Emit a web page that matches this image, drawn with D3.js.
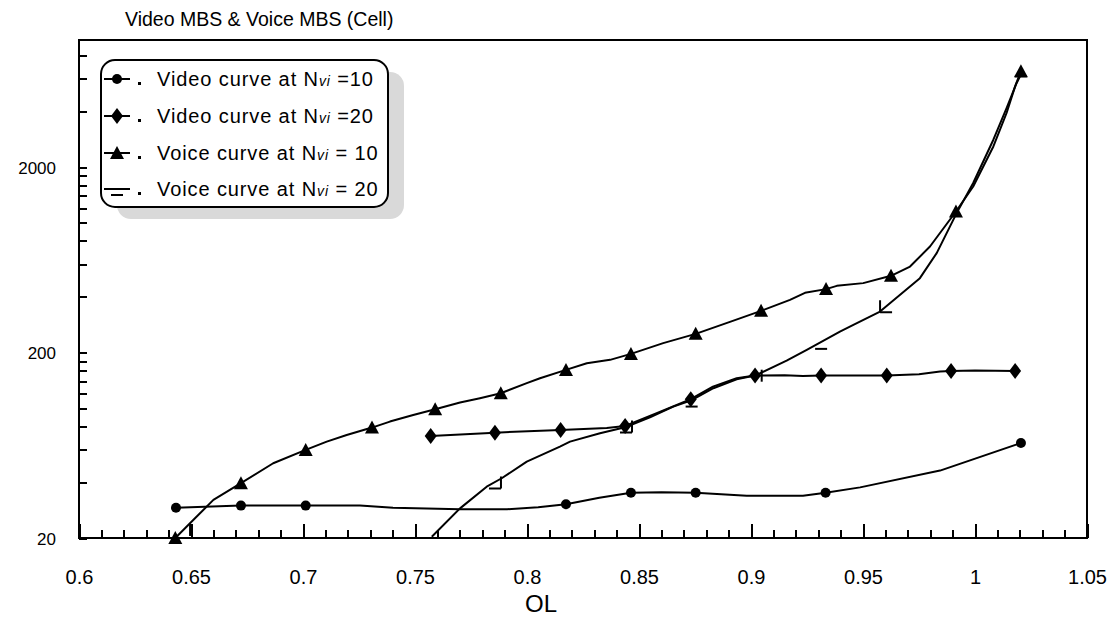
<!DOCTYPE html>
<html>
<head>
<meta charset="utf-8">
<script src="https://cdn.jsdelivr.net/npm/d3@7/dist/d3.min.js"></script>
<style>
  html, body { margin: 0; padding: 0; background: #fff; }
  svg { display: block; font-family: "Liberation Sans", Arial, Helvetica, sans-serif; }
</style>
</head>
<body>
<svg id="chart" width="1112" height="617"></svg>
<script>
// ---- data -------------------------------------------------------------
// Video curve at Nvi = 10 (line and circle markers)
const videoN10OL   = [0.6433, 0.6723, 0.7012, 0.7254, 0.7402, 0.7701, 0.7911, 0.805, 0.8174, 0.8323, 0.8464, 0.860, 0.8753, 0.8981, 0.9232, 0.9333, 0.9487, 0.9844, 1.0205];
const videoN10Val  = [29.1, 29.9, 29.9, 29.9, 29.1, 28.6, 28.6, 29.3, 30.4, 33.0, 35.1, 35.3, 35.1, 33.8, 33.8, 35.1, 37.5, 46.2, 65.1];
const videoN10MarkOL  = [0.6433, 0.6723, 0.7012, 0.8174, 0.8464, 0.8753, 0.9333, 1.0205];
const videoN10MarkVal = [29.1, 29.9, 29.9, 30.4, 35.1, 35.1, 35.1, 65.1];

// Video curve at Nvi = 20 (line and diamond markers)
const videoN20OL   = [0.757, 0.7857, 0.815, 0.8356, 0.8438, 0.8579, 0.8731, 0.883, 0.8936, 0.9018, 0.915, 0.9232, 0.9313, 0.9606, 0.975, 0.9844, 0.9893, 1.0, 1.0179];
const videoN20Val  = [71.0, 74.0, 76.5, 78.5, 80.4, 94.2, 112.1, 131.1, 145.5, 150.3, 151.0, 149.5, 150.3, 150.3, 153.0, 157.9, 159.3, 160.0, 159.3];
const videoN20MarkOL  = [0.757, 0.7857, 0.815, 0.8438, 0.8731, 0.9018, 0.9313, 0.9606, 0.9893, 1.0179];
const videoN20MarkVal = [71.0, 74.0, 76.5, 80.4, 112.1, 150.3, 150.3, 150.3, 159.3, 159.3];

// Voice curve at Nvi = 10 (line and triangle markers)
const voiceN10OL   = [0.643, 0.651, 0.660, 0.6723, 0.6867, 0.7012, 0.7106, 0.7195, 0.7308, 0.7388, 0.7492, 0.759, 0.7701, 0.779, 0.7883, 0.7999, 0.8058, 0.8174, 0.8267, 0.8371, 0.8464, 0.8608, 0.8753, 0.8906, 0.9045, 0.9174, 0.9241, 0.9335, 0.9383, 0.9501, 0.9625, 0.971, 0.9799, 0.9915, 0.9992, 1.0082, 1.0141, 1.0179, 1.0205];
const voiceN10Val  = [20.0, 25.0, 32.1, 39.5, 50.6, 59.7, 66.2, 71.9, 78.8, 84.9, 92.2, 99.0, 107.5, 113.5, 120.7, 136.8, 145.5, 161.3, 175.3, 182.7, 196.8, 224.8, 252.4, 293, 335.8, 385, 420, 439.8, 458, 473.8, 518.8, 582, 746.6, 1153, 1573, 2587, 3918, 5452, 6572];
const voiceN10MarkOL  = [0.643, 0.6723, 0.7012, 0.7308, 0.759, 0.7883, 0.8174, 0.8464, 0.8753, 0.9045, 0.9335, 0.9625, 0.9915, 1.0205];
const voiceN10MarkVal = [20.0, 39.5, 59.7, 78.8, 99.0, 120.7, 161.3, 196.8, 252.4, 335.8, 439.8, 518.8, 1153, 6572];

// Voice curve at Nvi = 20 (line and open-box markers)
const voiceN20OL   = [0.7575, 0.7701, 0.782, 0.7887, 0.7999, 0.8147, 0.8192, 0.8326, 0.8438, 0.8549, 0.8653, 0.8731, 0.8832, 0.8936, 0.9018, 0.9159, 0.9249, 0.9397, 0.9457, 0.9576, 0.9754, 0.9829, 0.9918, 0.9992, 1.0082, 1.0141, 1.0186, 1.0201];
const voiceN20Val  = [20.3, 28.9, 37.8, 42.0, 51.6, 62.2, 66.2, 73.5, 79.1, 89.6, 102.2, 110.2, 128.5, 143.7, 150.3, 181.1, 206.8, 259.7, 282.2, 333, 504, 688, 1130, 1642, 2812, 4168, 5688, 6176];
const voiceN20MarkOL  = [0.6469, 0.7857, 0.8442, 0.8735, 0.9021, 0.9313, 0.9603, 1.0205];
const voiceN20MarkVal = [22.1, 39.9, 79.9, 110.2, 150.1, 225.6, 355.2, 5730];
// which sides of the box glyph are inked at each marker
const voiceN20MarkSides = ["r", "rb", "rb", "b", "r", "b", "lb", "t"];

// axis ticks
const xMajorTicks = [0.6, 0.65, 0.7, 0.75, 0.8, 0.85, 0.9, 0.95, 1, 1.05];
const xMinorTicks = d3.range(60, 106).map(v => v / 100);
const yMajorTicks = [20, 200, 2000];
const yMinorTicks = [40, 60, 80, 100, 120, 140, 160, 180, 400, 600, 800, 1000, 1200, 1400, 1600, 1800, 4000, 6000, 8000];

const legendLabels = [
  { text: "Video curve at N", sub: "vi", tail: " =10" },
  { text: "Video curve at N", sub: "vi", tail: " =20" },
  { text: "Voice curve at N", sub: "vi", tail: " = 10" },
  { text: "Voice curve at N", sub: "vi", tail: " = 20" }
];

// ---- layout -----------------------------------------------------------
const plot = { left: 79, right: 1087, top: 40, bottom: 538 };
const svg = d3.select("#chart");

const x = d3.scaleLinear().domain([0.6, 1.05]).range([plot.left, plot.right]);
const y = d3.scaleLog().domain([20, 9700]).range([plot.bottom, plot.top]);

// title
svg.append("text")
  .attr("x", 125).attr("y", 26)
  .attr("font-size", 19.5)
  .attr("fill", "#000")
  .text("Video MBS & Voice MBS (Cell)");

// axes (ticks point into the plot)
const xMinorAxis = d3.axisBottom(x).tickValues(xMinorTicks).tickSize(-8).tickFormat("");
const xMajorAxis = d3.axisBottom(x).tickValues(xMajorTicks).tickSize(-14).tickPadding(32)
  .tickFormat(d => d3.format("")(+d.toFixed(2)));
const yMinorAxis = d3.axisLeft(y).tickValues(yMinorTicks).tickSize(-8).tickFormat("");
const yMajorAxis = d3.axisLeft(y).tickValues(yMajorTicks).tickSize(-8).tickPadding(23)
  .tickFormat(d3.format("d"));

function styleAxis(g, fontSize) {
  g.select(".domain").remove();
  g.selectAll(".tick line").attr("stroke", "#000").attr("stroke-width", 2).attr("shape-rendering", "crispEdges");
  g.selectAll(".tick text").attr("fill", "#000").attr("font-size", fontSize)
    .attr("font-family", "'Liberation Sans', Arial, sans-serif");
}

svg.append("g").attr("transform", `translate(0,${plot.bottom})`).call(xMinorAxis).call(g => styleAxis(g, 0));
svg.append("g").attr("transform", `translate(0,${plot.bottom})`).call(xMajorAxis).call(g => styleAxis(g, 20));
svg.append("g").attr("transform", `translate(${plot.left},0)`).call(yMinorAxis).call(g => styleAxis(g, 0));
svg.append("g").attr("transform", `translate(${plot.left},0)`).call(yMajorAxis)
  .call(g => styleAxis(g, 17))
  .call(g => g.selectAll(".tick text").attr("dy", "0.36em"));

// plot frame
svg.append("rect")
  .attr("x", plot.left).attr("y", plot.top)
  .attr("width", plot.right - plot.left).attr("height", plot.bottom - plot.top)
  .attr("fill", "none").attr("stroke", "#000").attr("stroke-width", 2)
  .attr("shape-rendering", "crispEdges");

// x-axis title
svg.append("text")
  .attr("x", 541).attr("y", 612)
  .attr("text-anchor", "middle").attr("font-size", 24).attr("fill", "#000")
  .text("OL");

// ---- curves -----------------------------------------------------------
const line = d3.line().x(d => x(d[0])).y(d => y(d[1]));
const zip = (a, b) => a.map((v, i) => [v, b[i]]);

const curves = [
  { ol: videoN10OL, val: videoN10Val },
  { ol: videoN20OL, val: videoN20Val },
  { ol: voiceN10OL, val: voiceN10Val },
  { ol: voiceN20OL, val: voiceN20Val }
];
svg.append("g").selectAll("path").data(curves).join("path")
  .attr("d", c => line(zip(c.ol, c.val)))
  .attr("fill", "none").attr("stroke", "#000").attr("stroke-width", 2)
  .attr("stroke-linejoin", "round");

// marker glyphs
const glyph = {
  circle: "M-5,0a5,5 0 1,0 10,0a5,5 0 1,0 -10,0Z",
  diamond: "M0,-8L6,0L0,8L-6,0Z",
  triangle: "M0,-7L7,6L-7,6Z"
};
function boxSides(sides) {
  const h = 6, p = [];
  if (sides.includes("l")) p.push(`M${-h},${-h}L${-h},${h}`);
  if (sides.includes("r")) p.push(`M${h},${-h}L${h},${h}`);
  if (sides.includes("t")) p.push(`M${-h},${-h}L${h},${-h}`);
  if (sides.includes("b")) p.push(`M${-h},${h}L${h},${h}`);
  return p.join("");
}

function drawFilled(ol, val, shape) {
  svg.append("g").selectAll("path").data(zip(ol, val)).join("path")
    .attr("transform", d => `translate(${x(d[0])},${y(d[1])})`)
    .attr("d", glyph[shape]).attr("fill", "#000");
}
drawFilled(videoN10MarkOL, videoN10MarkVal, "circle");
drawFilled(videoN20MarkOL, videoN20MarkVal, "diamond");
drawFilled(voiceN10MarkOL, voiceN10MarkVal, "triangle");

svg.append("g").selectAll("path").data(zip(voiceN20MarkOL, voiceN20MarkVal)).join("path")
  .attr("transform", d => `translate(${x(d[0])},${y(d[1])})`)
  .attr("d", (d, i) => boxSides(voiceN20MarkSides[i]))
  .attr("fill", "none").attr("stroke", "#000").attr("stroke-width", 2);

// ---- legend -----------------------------------------------------------
const lg = { x: 101, y: 60, w: 287, h: 147, r: 14 };
svg.append("rect")
  .attr("x", lg.x + 16).attr("y", lg.y + 12).attr("width", lg.w).attr("height", lg.h)
  .attr("rx", lg.r).attr("fill", "#d9d9d9");
svg.append("rect")
  .attr("x", lg.x).attr("y", lg.y).attr("width", lg.w).attr("height", lg.h)
  .attr("rx", lg.r).attr("fill", "#fff").attr("stroke", "#000").attr("stroke-width", 2);

const rowY = [79, 116, 153, 189];
const legendGlyphs = ["circle", "diamond", "triangle", null];
const rows = svg.append("g").selectAll("g").data(legendLabels).join("g")
  .attr("transform", (d, i) => `translate(0,${rowY[i]})`);
rows.append("line").attr("x1", 104).attr("x2", 130).attr("y1", 0).attr("y2", 0)
  .attr("stroke", "#000").attr("stroke-width", 2);
rows.append("path")
  .attr("transform", "translate(117,0)")
  .attr("d", (d, i) => legendGlyphs[i] ? glyph[legendGlyphs[i]] : boxSides("b"))
  .attr("fill", (d, i) => legendGlyphs[i] ? "#000" : "none")
  .attr("stroke", (d, i) => legendGlyphs[i] ? "none" : "#000")
  .attr("stroke-width", 2);
rows.append("rect").attr("x", 138).attr("y", 3).attr("width", 3).attr("height", 3).attr("fill", "#000");
const lt = rows.append("text").attr("x", 157).attr("y", 7).attr("font-size", 20)
  .attr("letter-spacing", 0.9).attr("fill", "#000");
lt.append("tspan").text(d => d.text);
lt.append("tspan").attr("font-size", 14).attr("font-style", "italic").text(d => d.sub);
lt.append("tspan").text(d => d.tail);
</script>
</body>
</html>
